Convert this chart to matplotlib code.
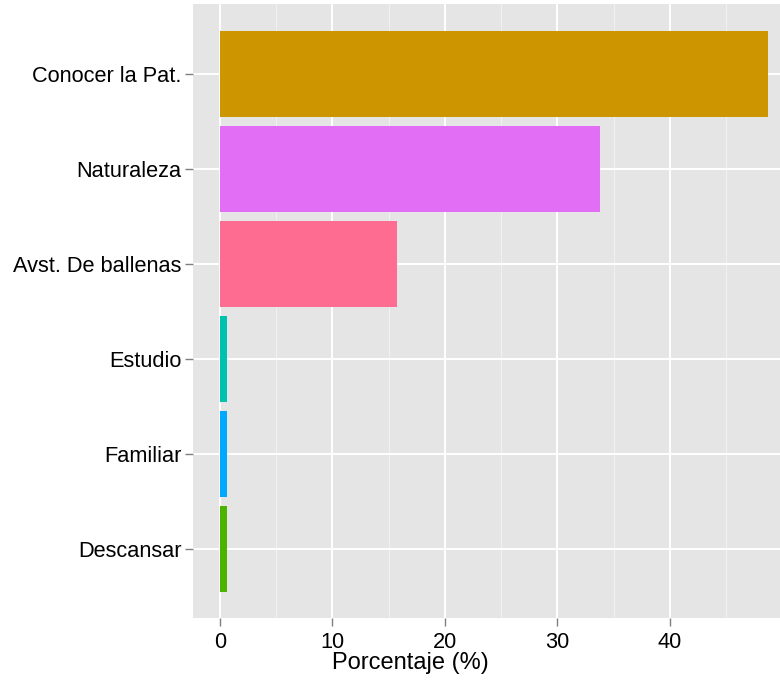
import matplotlib
matplotlib.use("Agg")
import matplotlib.pyplot as plt
from matplotlib.ticker import MultipleLocator

categories = ["Conocer la Pat.", "Naturaleza", "Avst. De ballenas", "Estudio", "Familiar", "Descansar"]
values = [48.7, 33.8, 15.7, 0.6, 0.6, 0.6]
colors = ["#CD9600", "#E36EF6", "#FF6C91", "#00C0AF", "#00A9FF", "#4CB400"]
xticks = [0, 10, 20, 30, 40]
xlabel = "Porcentaje (%)"

plt.rcParams['font.family'] = ['Liberation Sans', 'DejaVu Sans']

W, H = 780, 681
fig = plt.figure(figsize=(W / 100, H / 100), dpi=100)
left, right, top, bottom = 192.6, 795, 4, 618
ax = fig.add_axes([left / W, 1 - bottom / H, (right - left) / W, (bottom - top) / H])
ax.set_facecolor("#E5E5E5")

n = len(categories)
pos = [n - 1 - i for i in range(n)]
ax.barh(pos, values, height=0.9, color=colors, zorder=3)

ax.set_xlim(-2.435, 51.135)
ax.set_ylim(-0.726, n - 1 + 0.737)
ax.set_xticks(xticks)
ax.xaxis.set_minor_locator(MultipleLocator(5))
ax.set_yticks(pos)
ax.set_yticklabels(categories)

ax.grid(which="major", color="white", linewidth=1.4, zorder=1)
ax.grid(which="minor", axis="x", color="#F2F2F2", linewidth=0.7, zorder=1)
for s in ax.spines.values():
    s.set_visible(False)

ax.tick_params(axis="both", which="major", length=6, width=1.0, color="#7F7F7F",
               labelsize=15.7, labelcolor="black", pad=2)
ax.tick_params(axis="x", which="minor", length=0)
ax.tick_params(axis="x", pad=4)
ax.set_xlabel(xlabel, fontsize=17)
ax.xaxis.set_label_coords((410 - left) / (right - left), -(663 - bottom) / (bottom - top))
ax.xaxis.label.set_verticalalignment("center")

fig.savefig("out.png", dpi=100, facecolor="white")
